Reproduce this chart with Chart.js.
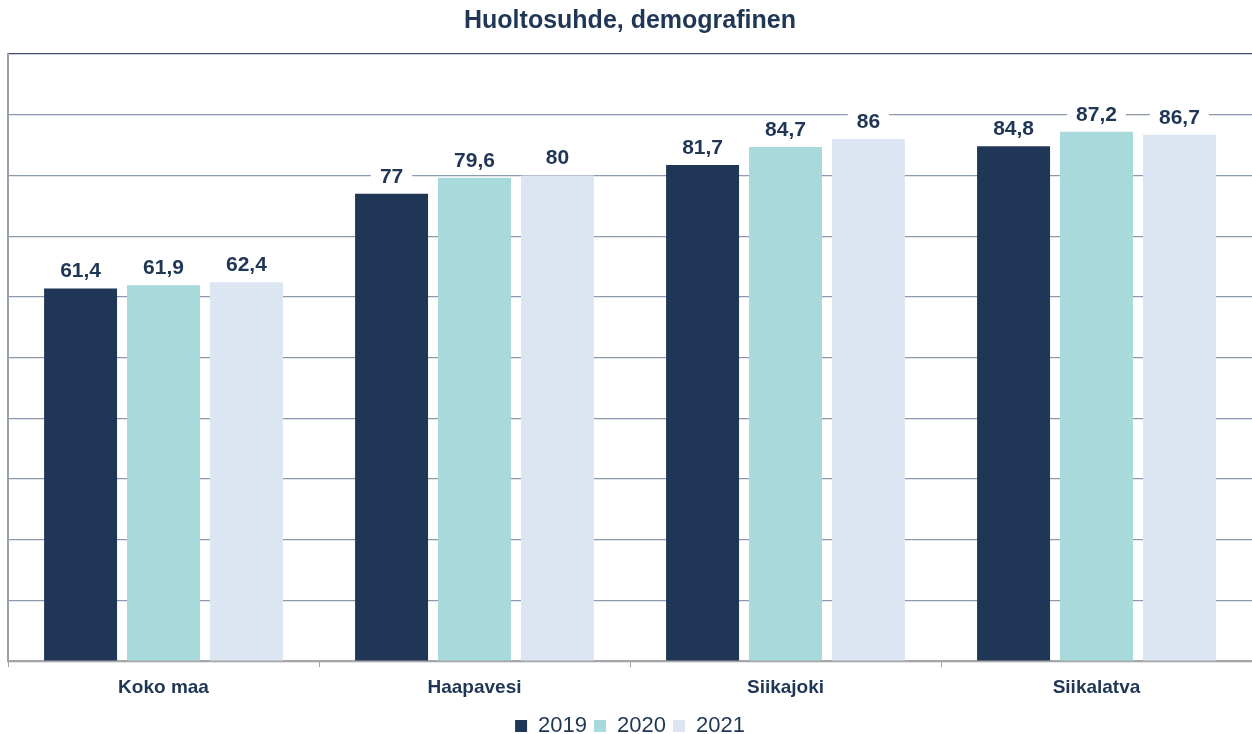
<!DOCTYPE html>
<html>
<head>
<meta charset="utf-8">
<script src="https://cdn.jsdelivr.net/npm/chart.js@4"></script>
<style>
  html, body { margin: 0; padding: 0; background: #fff; overflow: hidden; }
  #wrap { width: 1252px; height: 734px; overflow: hidden; }
</style>
</head>
<body>
<div id="wrap"><canvas id="myChart" width="1252" height="747"></canvas></div>
<script>
const categories = ["Koko maa", "Haapavesi", "Siikajoki", "Siikalatva"];
const years = ["2019", "2020", "2021"];
const values2019 = [61.4, 77, 81.7, 84.8];
const values2020 = [61.9, 79.6, 84.7, 87.2];
const values2021 = [62.4, 80, 86, 86.7];
const colors = ["#1f3656", "#a8dadb", "#dce6f2"];

const textColor = "#1f3656";
const fontName = "'Liberation Sans', Arial, sans-serif";

// labels above bars, with white box so the grid line is cut behind the text
const barLabels = {
  id: "barLabels",
  afterDatasetsDraw(chart) {
    const ctx = chart.ctx;
    ctx.save();
    ctx.font = "bold 21px " + fontName;
    ctx.textAlign = "center";
    ctx.textBaseline = "alphabetic";
    chart.data.datasets.forEach((ds, i) => {
      const meta = chart.getDatasetMeta(i);
      meta.data.forEach((bar, j) => {
        const txt = String(ds.data[j]).replace(".", ",");
        const w = ctx.measureText(txt).width;
        ctx.fillStyle = "#fff";
        ctx.fillRect(bar.x - w / 2 - 9, bar.y - 30, w + 18, 22);
        ctx.fillStyle = textColor;
        ctx.fillText(txt, bar.x, bar.y - 11);
      });
    });
    ctx.restore();
  }
};

function createChart() {
  const ctx = document.getElementById("myChart");
  const series = [values2019, values2020, values2021];

  const data = {
    labels: categories,
    datasets: years.map((y, i) => ({
      label: y,
      data: series[i],
      backgroundColor: colors[i],
      borderWidth: 0,
      categoryPercentage: 0.8,
      barPercentage: 0.88
    }))
  };

  const config = {
    type: "bar",
    data,
    plugins: [barLabels],
    options: {
      responsive: false,
      animation: false,
      layout: { padding: { left: 8, right: 0, top: 0, bottom: 0 } },
      scales: {
        y: {
          min: 0,
          max: 100,
          ticks: { display: false, stepSize: 10 },
          grid: {
            color: (c) => c.tick && c.tick.value === 100 ? "#3b4e6b" : "#8c98ad",
            lineWidth: 1.2,
            drawTicks: false
          },
          border: { display: true, color: "#9aa1ad", width: 2 }
        },
        x: {
          grid: { drawOnChartArea: false, color: "#a6a6a6", tickLength: 6, offset: true },
          border: { color: "#a6a6a6", width: 2 },
          ticks: {
            color: textColor,
            padding: 9,
            font: { family: fontName, size: 19, weight: "bold" }
          }
        }
      },
      plugins: {
        title: {
          display: true,
          text: "Huoltosuhde, demografinen",
          color: textColor,
          font: { family: fontName, size: 25, weight: "bold" },
          padding: { top: 6, bottom: 18 }
        },
        legend: {
          position: "bottom",
          labels: {
            color: textColor,
            boxWidth: 12,
            boxHeight: 12,
            padding: 7,
            font: { family: fontName, size: 22 }
          }
        },
        tooltip: { enabled: false }
      }
    }
  };

  new Chart(ctx, config);
}

createChart();
</script>
</body>
</html>
